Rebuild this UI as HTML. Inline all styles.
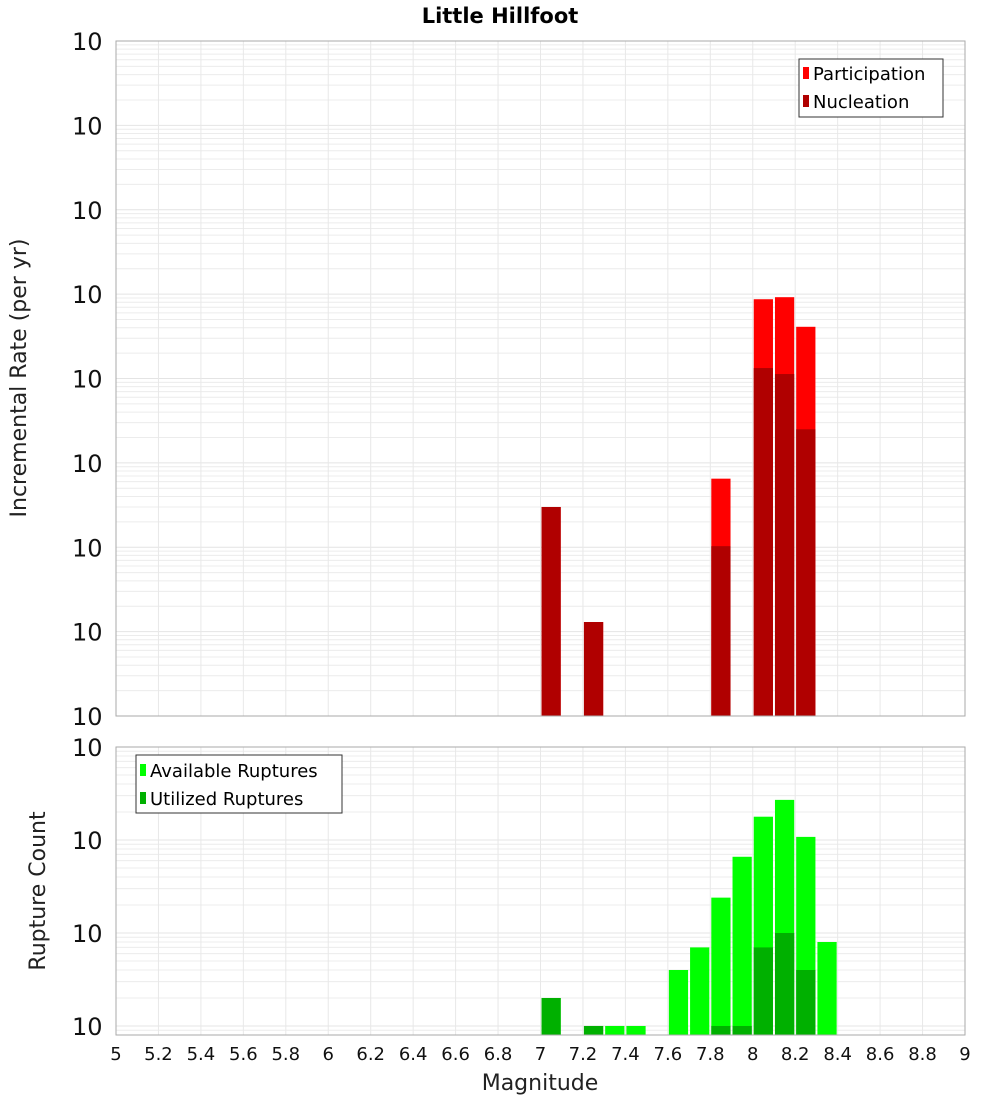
<!DOCTYPE html>
<html><head><meta charset="utf-8"><style>
body{margin:0;background:#fff;font-family:"Liberation Sans","DejaVu Sans",sans-serif}
svg text{font-family:"DejaVu Sans","Liberation Sans",sans-serif}
</style></head><body>
<svg id="c" width="1000" height="1100" xmlns="http://www.w3.org/2000/svg">
<rect width="1000" height="1100" fill="#fff"/>
<text x="500" y="23" text-anchor="middle" font-size="21" font-weight="bold">Little Hillfoot</text>
<g id="top"></g>
<g id="bot"></g>
<text transform="translate(26,378) rotate(-90)" text-anchor="middle" font-size="22" fill="#222">Incremental Rate (per yr)</text>
<text transform="translate(45,891) rotate(-90)" text-anchor="middle" font-size="22" fill="#222">Rupture Count</text>
<text x="540" y="1090" text-anchor="middle" font-size="22" fill="#222">Magnitude</text>
<g>
<rect x="799" y="59" width="144" height="58" fill="#fff" stroke="#333"/>
<rect x="803" y="67" width="6" height="12" fill="#ff0000"/>
<text x="813" y="80" font-size="18">Participation</text>
<rect x="803" y="95" width="6" height="12" fill="#b00000"/>
<text x="813" y="108" font-size="18">Nucleation</text>
</g>
<g>
<rect x="136" y="755" width="206" height="58" fill="#fff" stroke="#333"/>
<rect x="140" y="764" width="6" height="12" fill="#00ff00"/>
<text x="150" y="777" font-size="18">Available Ruptures</text>
<rect x="140" y="792" width="6" height="12" fill="#00b000"/>
<text x="150" y="805" font-size="18">Utilized Ruptures</text>
</g>
</svg>
<script>
const rateMags=[7.05,7.25,7.85,8.05,8.15,8.25];
const participation=[3e-8,1.3e-9,6.5e-8,8.7e-6,9.2e-6,4.1e-6];
const nucleation=[3e-8,1.3e-9,1.03e-8,1.33e-6,1.13e-6,2.5e-7];
const countMags=[7.05,7.25,7.35,7.45,7.65,7.75,7.85,7.95,8.05,8.15,8.25,8.35];
const available=[2,1,1,1,4,7,24,66,178,270,108,8];
const utilized=[2,1,0,0,0,0,1,1,7,10,4,0];
const xTicks=["5","5.2","5.4","5.6","5.8","6","6.2","6.4","6.6","6.8","7","7.2","7.4","7.6","7.8","8","8.2","8.4","8.6","8.8","9"];
const rateExps=[-2,-3,-4,-5,-6,-7,-8,-9,-10];
const countExps=[3,2,1,0];

const NS="http://www.w3.org/2000/svg";
const X0=116,X1=965;
const xs=m=>X0+(m-5)/4*(X1-X0);
function mk(p,t,a){const e=document.createElementNS(NS,t);for(const k in a)e.setAttribute(k,a[k]);p.appendChild(e);return e;}
function panel(g,top,bot,yTop,yBot,fn){
  // y: log scale fn
  const ys=v=>top+(yTop-Math.log10(v))/(yTop-yBot)*(bot-top);
  mk(g,'rect',{x:X0,y:top,width:X1-X0,height:bot-top,fill:'#fff'});
  for(let d=Math.floor(yBot);d<yTop;d++)for(let k=1;k<10;k++){const v=k*Math.pow(10,d);const y=ys(v);if(y<top||y>bot)continue;
    const l=mk(g,'line',{x1:X0,x2:X1,y1:y,y2:y,stroke:k==1?'#e4e4e4':'#ececec','stroke-width':1});
    
    }
  xTicks.forEach(t=>{const x=xs(+t);const l=mk(g,'line',{x1:x,x2:x,y1:top,y2:bot,stroke:'#e8e8e8'});
    
    });
  fn(ys);
  mk(g,'rect',{x:X0,y:top,width:X1-X0,height:bot-top,fill:'none',stroke:'#aaa'});
  return ys;
}
function bar(g,m,v,ys,bot,col,name){if(v<=0)return;const y=ys(v);const w=(xs(5.1)-xs(5));
  const r=mk(g,'rect',{x:xs(m)-w/2+1,y:y,width:w-2,height:bot-y,fill:col});
  
  }
const gt=document.getElementById('top'),gb=document.getElementById('bot');
const ysT=panel(gt,41,716,-2,-10,ys=>{
  rateMags.forEach((m,i)=>bar(gt,m,participation[i],ys,716,'#ff0000','bar-participation'));
  rateMags.forEach((m,i)=>bar(gt,m,nucleation[i],ys,716,'#b00000','bar-nucleation'));
});
const ysB=panel(gb,747,1035,3,Math.log10(0.8),ys=>{
  countMags.forEach((m,i)=>bar(gb,m,available[i],ys,1035,'#00ff00','bar-available'));
  countMags.forEach((m,i)=>bar(gb,m,utilized[i],ys,1035,'#00b000','bar-utilized'));
});
function ylab(g,e,y,name){const t=mk(g,'text',{x:110,y:y+9,'text-anchor':'end','font-size':24,fill:'#111'});
  
  
  t.textContent='10';
  const s=mk(g,'tspan',{dy:-16,'font-size':16});s.textContent=String(e);}
rateExps.forEach(e=>{const y=ysT(Math.pow(10,e));const t=mk(gt,'text',{x:72,y:y+9,'font-size':24,fill:'#111'});
  
  
  t.textContent='10';const s=mk(gt,'tspan',{dy:-16,'font-size':16});s.textContent=String(e);});
countExps.forEach(e=>{const y=ysB(Math.pow(10,e));const t=mk(gb,'text',{x:72,y:y+9,'font-size':24,fill:'#111'});
  
  
  t.textContent='10';const s=mk(gb,'tspan',{dy:-16,'font-size':16});s.textContent=String(e);});
xTicks.forEach(tk=>{const t=mk(gb,'text',{x:xs(+tk),y:1060,'text-anchor':'middle','font-size':18,fill:'#111'});
  
  
  t.textContent=tk;});
</script>
</body></html>
